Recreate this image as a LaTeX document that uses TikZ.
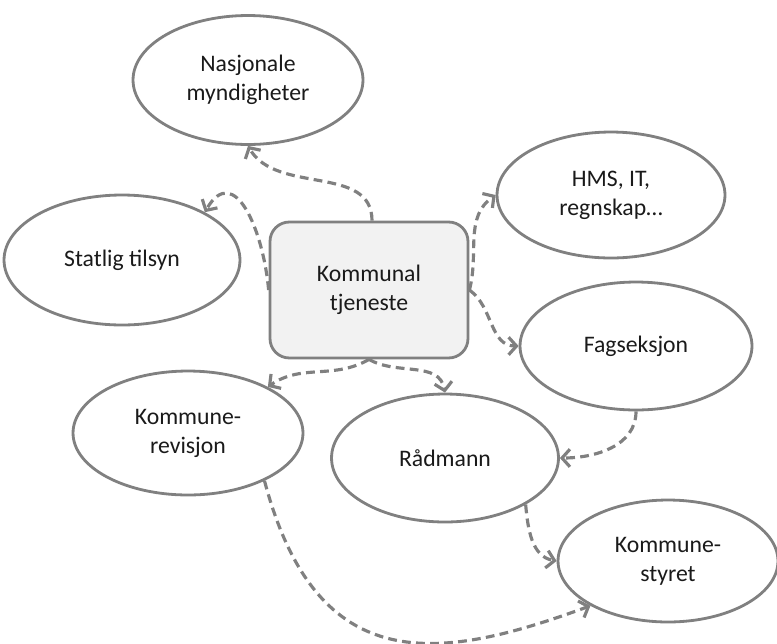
\documentclass[tikz,border=0pt]{standalone}
\usepackage{fontspec}
\setmainfont{Carlito}
\usetikzlibrary{arrows.meta,shapes.geometric}
\definecolor{linegray}{HTML}{808080}
\definecolor{boxfill}{HTML}{F2F2F2}
\definecolor{darktext}{HTML}{1A1A1A}

\begin{document}
\begin{tikzpicture}[x=0.02cm, y=0.02cm,
  bubble/.style={ellipse, draw=linegray, line width=1.6pt, inner sep=0pt, minimum width=4.6cm, minimum height=2.58cm, font=\fontsize{13.5}{16.5}\selectfont, text=darktext, align=center},
  unit/.style={rectangle, rounded corners=11pt, draw=linegray, fill=boxfill, line width=1.6pt, minimum width=3.96cm, minimum height=2.72cm, font=\fontsize{13.5}{16.5}\selectfont, text=darktext, align=center},
  flow/.style={-{Straight Barb[length=4.5pt, width=10pt]}, draw=linegray, line width=1.8pt, dash pattern=on 5pt off 3pt},
]
  \useasboundingbox (0,0) rectangle (777,-643);
  \node[bubble] (nasj) at (248,-80) {Nasjonale\\myndigheter};
  \node[bubble, minimum width=4.72cm, minimum height=2.6cm] (statlig) at (122,-260) {Statlig tilsyn};
  \node[unit] (tj) at (369,-290) {Kommunal\\tjeneste};
  \node[bubble, minimum width=4.56cm, minimum height=2.52cm] (hms) at (611,-195) {HMS, IT,\\regnskap…};
  \node[bubble, minimum width=4.64cm, minimum height=2.56cm] (fag) at (636,-346) {Fagseksjon};
  \node[bubble, minimum height=2.48cm] (rev) at (188,-433) {Kommune-\\revisjon};
  \node[bubble, minimum width=4.54cm, minimum height=2.56cm] (rad) at (445,-458) {Rådmann};
  \node[bubble, minimum width=4.4cm, minimum height=2.44cm] (styret) at (668,-561) {Kommune-\\styret};

  \draw[flow] ([xshift=0.06cm]tj.north) to[out=90, in=-60] (nasj.south);
  \draw[flow] (tj.west) to[out=95, in=60, looseness=1.5] (statlig.30);
  \draw[flow] (tj.east) to[out=75, in=215] (hms.west);
  \draw[flow] (tj.east) to[out=-35, in=180] (fag.west);
  \draw[flow] (tj.south) to[out=210, in=35] (rev.30);
  \draw[flow] (tj.south) to[out=-30, in=100] (rad.north);
  \draw[flow] (fag.south) to[out=-90, in=0] (rad.east);
  \draw[flow] (rad.-30) to[out=-85, in=170] (styret.west);
  \draw[flow] (rev.-32) .. controls +(53,-200) and +(-150,-55) .. (styret.210);
\end{tikzpicture}
\end{document}
